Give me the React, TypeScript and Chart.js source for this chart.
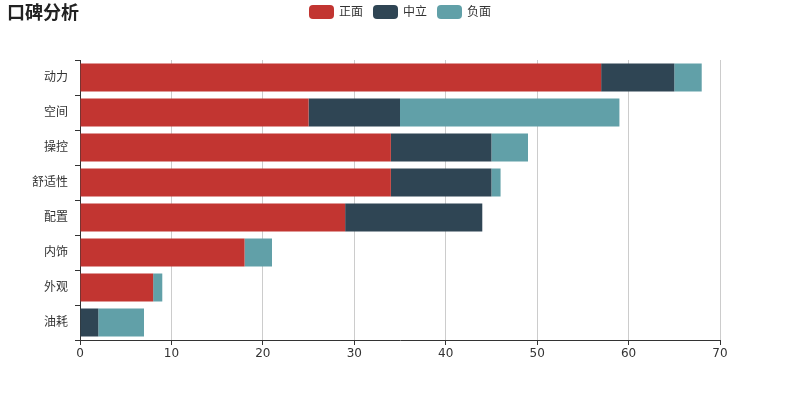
import React, { useEffect, useRef } from "react";
import { Chart, registerables } from "chart.js";

Chart.register(...registerables);

const categories = ["动力", "空间", "操控", "舒适性", "配置", "内饰", "外观", "油耗"];
const positive = [57, 25, 34, 34, 29, 18, 8, 0];
const neutral = [8, 10, 11, 11, 15, 0, 0, 2];
const negative = [3, 24, 4, 1, 0, 3, 1, 5];
const seriesNames = ["正面", "中立", "负面"];
const seriesColors = ["#c23531", "#2f4554", "#61a0a8"];
const titleText = "口碑分析";

const FONT = '"DejaVu Sans", "Noto Sans CJK SC", sans-serif';

const headerPlugin = {
  id: "header",
  afterDraw(chart: any) {
    const ctx = chart.ctx;
    ctx.save();
    // title
    ctx.fillStyle = "#222";
    ctx.font = `bold 18px ${FONT}`;
    ctx.textBaseline = "middle";
    ctx.textAlign = "left";
    ctx.fillText(titleText, 7, 14);
    // legend
    ctx.font = `12px ${FONT}`;
    const boxW = 25, boxH = 14, gapText = 5, itemGap = 10;
    const ds = chart.data.datasets;
    const widths = ds.map((d: any) => boxW + gapText + ctx.measureText(d.label).width);
    const total = widths.reduce((a: number, b: number) => a + b, 0) + itemGap * (ds.length - 1);
    let x = chart.width / 2 - total / 2;
    const y = 5;
    ds.forEach((d: any, i: number) => {
      ctx.fillStyle = d.backgroundColor;
      ctx.beginPath();
      (ctx as any).roundRect(x, y, boxW, boxH, 4);
      ctx.fill();
      ctx.fillStyle = "#333";
      ctx.textBaseline = "middle";
      ctx.fillText(d.label, x + boxW + gapText, y + boxH / 2 + 0.5);
      x += widths[i] + itemGap;
    });
    ctx.restore();
  },
};

export default function App() {
  const ref = useRef<HTMLCanvasElement | null>(null);
  useEffect(() => {
    document.body.style.margin = "0";
    const values = [positive, neutral, negative];
    const chart = new Chart(ref.current as HTMLCanvasElement, {
      type: "bar",
      data: {
        labels: categories,
        datasets: values.map((v, i) => ({
          label: seriesNames[i],
          data: v,
          backgroundColor: seriesColors[i],
          barPercentage: 0.8,
          categoryPercentage: 1,
          borderWidth: 0,
        })),
      },
      options: {
        indexAxis: "y",
        animation: false,
        responsive: false,
        devicePixelRatio: 1,
        layout: { padding: { top: 60, right: 80, bottom: 0, left: 0 } },
        plugins: {
          legend: { display: false },
          title: { display: false },
          tooltip: { enabled: false },
        },
        scales: {
          x: {
            stacked: true,
            min: 0,
            max: 70,
            ticks: { stepSize: 10, color: "#333", font: { size: 12, family: FONT }, padding: 2 },
            grid: { color: "#ccc", tickColor: "#333", tickLength: 5, lineWidth: 1 },
            border: { color: "#333", width: 1 },
            afterFit: (s: any) => { s.height = 60; },
          },
          y: {
            stacked: true,
            ticks: { color: "#333", font: { size: 12, family: FONT }, padding: 7 },
            grid: { drawOnChartArea: false, tickColor: "#333", tickLength: 5, offset: true },
            border: { color: "#333", width: 1 },
            afterFit: (s: any) => { s.width = 80; },
          },
        },
      },
      plugins: [headerPlugin],
    } as any);
    return () => chart.destroy();
  }, []);
  return (
    <div style={{ position: "absolute", left: 0, top: 0, width: 800, height: 400 }}>
      <canvas ref={ref} width={800} height={400} style={{ width: 800, height: 400 }} />
    </div>
  );
}
